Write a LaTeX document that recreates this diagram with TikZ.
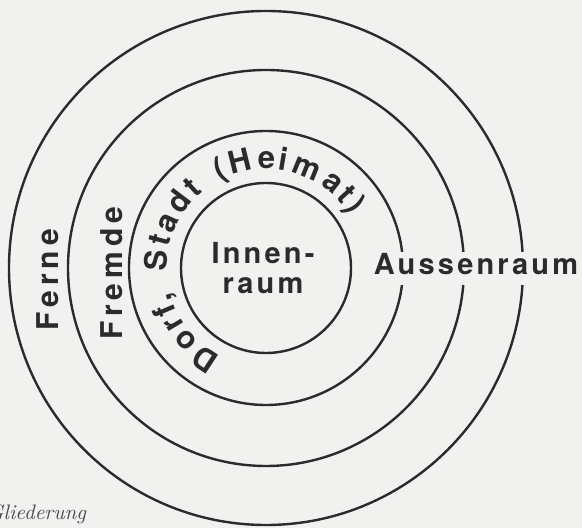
\documentclass[tikz,border=0pt]{standalone}
\usepackage{fontspec}
\newfontfamily\ringfont[LetterSpace=17]{TeX Gyre Heros}
\newfontfamily\roomfont[LetterSpace=11]{TeX Gyre Heros}
\usepackage{xcolor}
\usepackage{tikz}
\usetikzlibrary{decorations.text}
\definecolor{ink}{HTML}{2B2B2B}
\definecolor{paper}{HTML}{F1F1EF}
\tikzset{
  ring/.style={draw=ink, line width=1.2pt},
  zone/.style={font=\ringfont\bfseries\fontsize{15pt}{18pt}\selectfont,
               text=ink, inner sep=0pt, anchor=base},
  room/.style={font=\roomfont\bfseries\fontsize{14.5pt}{15pt}\selectfont,
               text=ink, inner sep=0pt, align=center},
  capt/.style={font=\itshape\fontsize{10.5pt}{12pt}\selectfont,
               text=ink!85, inner sep=0pt, anchor=base west},
}

\begin{document}
\begin{tikzpicture}[x=0.5pt, y=0.5pt]
\fill[paper] (-266,-260) rectangle (316,268);
\useasboundingbox (-266,-260) rectangle (316,268);
\coordinate (c) at (0,0);

% four rings round the same centre
\draw[ring] (c) circle[radius=85];
\draw[ring] (c) circle[radius=137];
\draw[ring] (c) circle[radius=198];
\draw[ring] (c) circle[radius=257];

\node[room] (innen) at (-3,0) {Innen-\\raum};
\node[room, anchor=base, fill=paper, inner xsep=1pt, inner ysep=1pt,
      text depth=4pt] (aussen) at (210,-7) {Aussenraum};

\node[zone, rotate=90] (ferne) at (-207,-12) {Ferne};
\node[zone, rotate=90] (fremde) at (-143,-5) {Fremde};

\path[decorate, decoration={text effects along path,
      text={Dorf, Stadt (Heimat)},
      text effects/.cd, text along path, fit text to path,
      characters={font=\ringfont\bfseries\fontsize{15.5pt}{18pt}\selectfont, text=ink}}]
  (243:99) arc[start angle=243, end angle=32, radius=99];

\node[capt] (fig) at (-279,-252) {Gliederung};
\end{tikzpicture}
\end{document}
